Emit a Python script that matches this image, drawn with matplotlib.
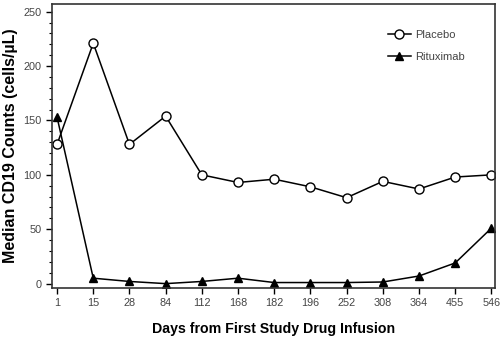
import matplotlib
matplotlib.use('Agg')
import matplotlib.pyplot as plt
from matplotlib.ticker import MultipleLocator

plt.rcParams['font.family'] = ['Liberation Sans', 'DejaVu Sans']

days = ['1', '15', '28', '84', '112', '168', '182', '196', '252', '308', '364', '455', '546']
placebo = [128, 221, 128, 154, 100, 93, 96, 89, 79, 94, 87, 98, 100]
rituximab = [153, 5, 2, 0, 2, 5, 1, 1, 1, 1.5, 7, 19, 51]

fig = plt.figure(figsize=(5, 3.4), dpi=100)
ax = fig.add_axes([0.104, 0.153, 0.886, 0.835])

x = list(range(len(days)))
ax.plot(x, placebo, color='black', linewidth=1.1, marker='o', markersize=6.5,
        markerfacecolor='white', markeredgecolor='black', markeredgewidth=1.0,
        label='Placebo')
ax.plot(x, rituximab, color='black', linewidth=1.1, marker='^', markersize=6,
        markerfacecolor='black', label='Rituximab')

ax.set_xlim(-0.14, 12.1)
ax.set_ylim(-4, 257)
ax.set_xticks(x)
ax.set_xticklabels(days)
ax.set_yticks([0, 50, 100, 150, 200, 250])
ax.yaxis.set_minor_locator(MultipleLocator(10))

ax.tick_params(axis='both', which='major', labelsize=7.8, labelcolor='#444444',
               direction='out', length=4, width=1)
ax.tick_params(axis='y', which='minor', direction='out', length=2, width=0.8)

for s in ax.spines.values():
    s.set_linewidth(1.2)
    s.set_color('#333333')

ax.set_xlabel('Days from First Study Drug Infusion', fontsize=10.2,
              fontweight='bold', labelpad=10)
ax.set_ylabel('Median CD19 Counts (cells/\u00b5L)', fontsize=11.5,
              fontweight='bold', labelpad=4)

leg = ax.legend(loc='upper right', frameon=False, fontsize=8,
                bbox_to_anchor=(0.955, 0.945), handlelength=2.1,
                labelspacing=1.1, handletextpad=0.4)
for t in leg.get_texts():
    t.set_color('#444444')

fig.savefig('out.png', dpi=100)
